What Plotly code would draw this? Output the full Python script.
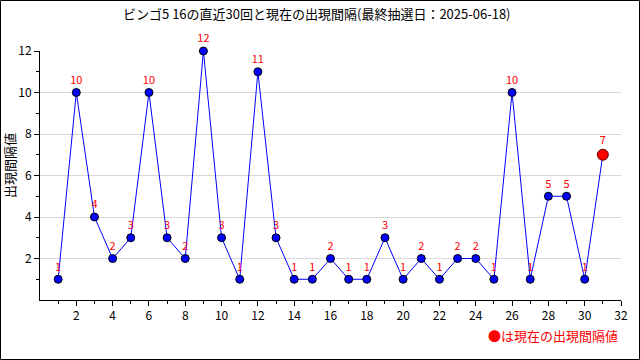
import plotly.graph_objects as go

draws = list(range(1, 31))
intervals = [1, 10, 4, 2, 3, 10, 3, 2, 12, 3, 1, 11, 3, 1, 1, 2, 1, 1, 3, 1,
             2, 1, 2, 2, 1, 10, 1, 5, 5, 1]
current_x = 31
current_val = 7
title = "ビンゴ5 16の直近30回と現在の出現間隔(最終抽選日：2025-06-18)"
ylabel = "出現間隔値"
note = "●は現在の出現間隔値"

FONT = "Noto Sans CJK JP"
all_x = draws + [current_x]
all_y = intervals + [current_val]

fig = go.Figure()
fig.add_trace(go.Scatter(x=all_x, y=all_y, mode="lines",
                         line=dict(color="#0000ff", width=1),
                         hoverinfo="skip", cliponaxis=False))
fig.add_trace(go.Scatter(x=draws, y=intervals, mode="markers+text",
                         marker=dict(color="#0000ff", size=8,
                                     line=dict(color="#000000", width=1)),
                         text=[str(v) for v in intervals],
                         textposition="top center",
                         textfont=dict(color="#ff0000", size=11, family=FONT),
                         cliponaxis=False))
fig.add_trace(go.Scatter(x=[current_x], y=[current_val], mode="markers+text",
                         marker=dict(color="#ff0000", size=11,
                                     line=dict(color="#600000", width=1)),
                         text=[str(current_val)],
                         textposition="top center",
                         textfont=dict(color="#ff0000", size=11, family=FONT),
                         cliponaxis=False))

L, T, W, H = 40, 51, 581, 249
def px(x):
    return (x - L) / W
def py(y):
    return (T + H - y) / H

fig.update_layout(
    width=640, height=360,
    margin=dict(l=L, r=640 - L - W, t=T, b=360 - T - H, autoexpand=False),
    paper_bgcolor="white", plot_bgcolor="white",
    showlegend=False,
    font=dict(family=FONT, size=11, color="#000000"),
    xaxis=dict(range=[0, 32], tickmode="array", tickvals=list(range(2, 33, 2)),
               automargin=False,
               showgrid=False, zeroline=False, showline=True, linecolor="black",
               ticks="outside", ticklen=5, tickcolor="black",
               minor=dict(tickmode="array", tickvals=list(range(1, 32, 2)),
                          ticks="outside", ticklen=3, tickcolor="black"),
               tickfont=dict(size=12)),
    yaxis=dict(range=[0, 12], tickmode="array", tickvals=list(range(2, 13, 2)),
               automargin=False,
               showgrid=True, gridcolor="#d9d9d9", zeroline=False,
               showline=True, linecolor="black",
               ticks="outside", ticklen=5, tickcolor="black",
               minor=dict(tickmode="array", tickvals=list(range(1, 13, 2)),
                          ticks="outside", ticklen=3, tickcolor="black",
                          showgrid=False),
               tickfont=dict(size=12)),
    shapes=[dict(type="rect", xref="paper", yref="paper",
                 x0=px(0.5), x1=px(639.5), y0=py(359.5), y1=py(0.5),
                 line=dict(color="black", width=1), layer="above")],
    annotations=[
        dict(text=title, xref="paper", yref="paper",
             x=px(317), y=py(13), xanchor="center", yanchor="middle",
             showarrow=False, font=dict(color="#000000", size=13, family=FONT)),
        dict(text=note, xref="paper", yref="paper",
             x=px(620), y=py(335), xanchor="right", yanchor="middle",
             showarrow=False, font=dict(color="#ff0000", size=13, family=FONT)),
        dict(text=ylabel, xref="paper", yref="paper",
             x=0, xshift=-31, y=py(166), xanchor="center", yanchor="middle",
             textangle=-90, showarrow=False,
             font=dict(color="#000000", size=13, family=FONT)),
    ],
)

fig.write_html("out.html", config={"displayModeBar": False},
               post_script="document.body.style.margin='0px';document.body.style.overflow='hidden';")
